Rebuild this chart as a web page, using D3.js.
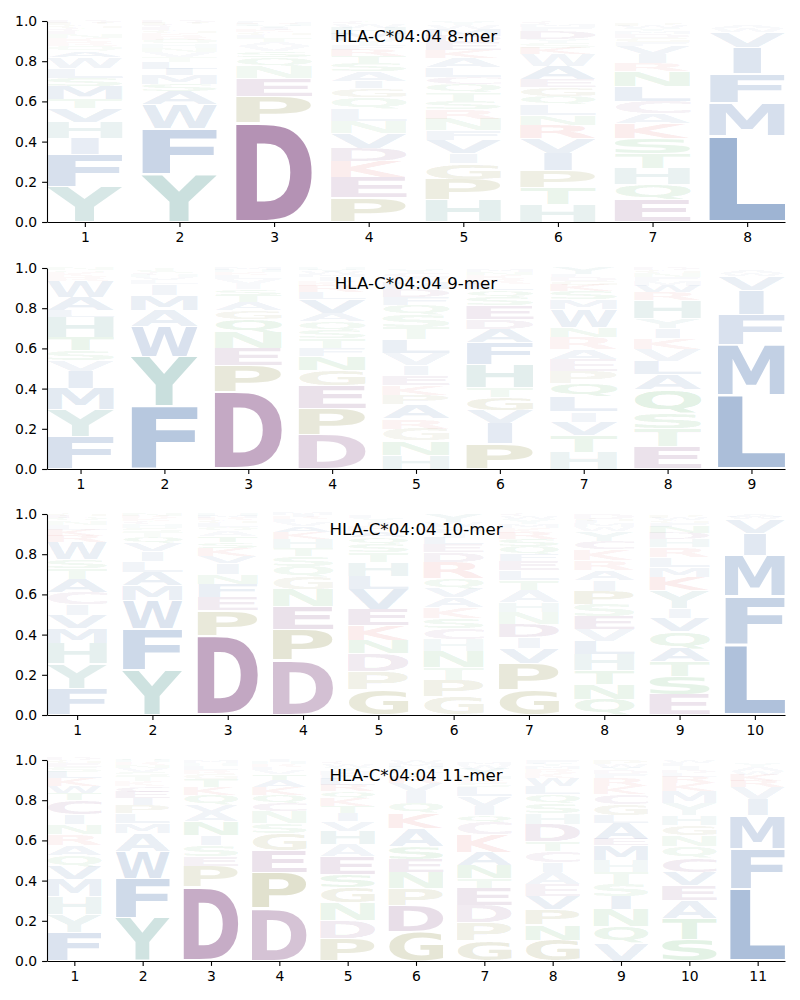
<!DOCTYPE html>
<html>
<head>
<meta charset="utf-8">
<script src="https://cdn.jsdelivr.net/npm/d3@7"></script>
<style>
body { margin: 0; background: #fff; }
svg text { font-family: "DejaVu Sans", sans-serif; }
</style>
</head>
<body>
<svg id="chart" width="800" height="1000"></svg>
<script>
// Peptide logos for HLA-C*04:04, one panel per peptide length.
// Each column: letters from bottom to top, with their heights (frequencies)

const titles = ["HLA-C*04:04 8-mer", "HLA-C*04:04 9-mer", "HLA-C*04:04 10-mer", "HLA-C*04:04 11-mer"];

const letters8 = ["YFIHVTMSLWAQRKNECGPD", "YFWASMILTVNHQRKGECPD", "DPENQSVATLGKIYHRMF", "PEKDVNLQGIASTRFYMHWC",
    "HPGIVFNRSTQCLAKEDMWY", "HTPIVRNLQGEAWKSYDFMC", "EQHTSKACLNRIVFGDMYWP", "LMFIVWA"];
const heights8 = [
    [.175, .16, .08, .08, .07, .045, .065, .04, .05, .055, .03, .025, .02, .02, .02, .015, .015, .015, .01, .01],
    [.24, .225, .12, .065, .035, .045, .03, .035, .025, .025, .02, .02, .02, .02, .015, .015, .015, .01, .01, .01],
    [.495, .13, .09, .06, .045, .03, .025, .02, .02, .015, .015, .01, .01, .01, .01, .005, .005, .005],
    [.12, .1, .08, .065, .075, .06, .06, .06, .045, .035, .05, .04, .035, .03, .025, .025, .03, .03, .02, .015],
    [.11, .1, .08, .05, .065, .05, .058, .05, .04, .04, .04, .035, .05, .045, .04, .04, .03, .035, .02, .02],
    [.09, .08, .085, .085, .075, .065, .05, .055, .04, .045, .04, .065, .06, .03, .025, .02, .04, .02, .015, .01],
    [.11, .075, .08, .075, .075, .075, .05, .06, .075, .075, .04, .045, .04, .02, .02, .02, .015, .015, .01, .01],
    [.43, .165, .145, .13, .075, .02, .015]
];

const letters9 = ["FYMIVSTHLAWRKQN", "FYWAMILVHCST", "DPENQGATSIVLKHM", "DPEGNFTSQAVLRKIMWYH", "HNGRAPKEIVLTSQFDMWCY",
    "PIVGTHFADESQLRKNM", "HTVILQPEARNWMSKGDFY", "ETSQALVKIYHRWMFNGD", "LMFIVWA"];
const heights9 = [
    [.16, .135, .105, .085, .055, .05, .065, .1, .035, .065, .08, .02, .025, .01, .01],
    [.31, .25, .15, .08, .075, .055, .02, .015, .01, .01, .01, .01],
    [.385, .13, .085, .08, .065, .045, .04, .035, .03, .025, .025, .02, .015, .01, .01],
    [.17, .13, .115, .075, .07, .04, .05, .04, .045, .04, .07, .035, .03, .025, .02, .015, .01, .01, .01],
    [.07, .07, .06, .05, .07, .045, .05, .05, .05, .06, .07, .06, .06, .05, .04, .04, .035, .025, .02, .02],
    [.125, .1, .065, .065, .05, .115, .11, .065, .05, .07, .04, .035, .03, .025, .02, .015, .01],
    [.085, .08, .07, .05, .075, .065, .06, .06, .05, .06, .05, .09, .05, .04, .03, .02, .02, .015, .03],
    [.11, .09, .075, .12, .075, .065, .06, .055, .05, .05, .09, .04, .03, .025, .02, .02, .015, .01],
    [.365, .255, .15, .12, .07, .015, .01]
];

const letters10 = ["FYHMVICATSWRKLNQEG", "YFWMALIVQTSHCKRN", "DPEFNIVKSTAQLGRMH", "DPENGQSTHKAVLRIM", "GPDNKEVLHTSQARIYF",
    "GPTNHCSKAVQRDELIFMWY", "GPVIDNHATLEFQSRKMYWC", "QNTHLVESPIARKCYWMFGD", "ESTAQVIYKMLRHDNFGWP", "LFMIVWA"];
const heights10 = [
    [.13, .125, .1, .075, .065, .055, .06, .065, .055, .045, .085, .03, .03, .025, .02, .015, .01, .01],
    [.225, .205, .14, .075, .065, .055, .05, .04, .03, .025, .02, .02, .015, .015, .01, .01],
    [.395, .125, .065, .065, .05, .055, .035, .04, .03, .03, .025, .02, .02, .015, .01, .01, .01],
    [.275, .15, .115, .085, .06, .055, .05, .04, .045, .035, .03, .02, .015, .01, .01, .01],
    [.125, .09, .09, .065, .075, .08, .1, .065, .07, .05, .04, .035, .03, .025, .02, .02, .015],
    [.09, .085, .06, .08, .06, .055, .05, .055, .05, .045, .05, .08, .05, .04, .03, .025, .02, .015, .02, .04],
    [.125, .13, .075, .055, .065, .06, .05, .06, .05, .05, .045, .035, .04, .035, .03, .025, .02, .025, .015, .01],
    [.08, .075, .065, .08, .065, .06, .065, .06, .065, .055, .05, .05, .055, .04, .05, .02, .02, .01, .01, .025],
    [.1, .09, .075, .065, .085, .065, .05, .09, .065, .05, .05, .05, .04, .03, .03, .02, .015, .01, .01],
    [.35, .24, .205, .11, .07, .01, .01]
];

const letters11 = ["FYHMVQARNICTWKLSEGD", "YFWAMLPIECKTSVNRHQ", "DPESINAVQKTGRLHM", "DPEGSNCQKATVLRHI",
    "PDNGSEAHVITKQRLFMYWC", "GDPNESAKQIVRTLHMW", "GPDETNAKCQIVLSRHFYWM", "GNPVEAICTDHSQLWKRMYF",
    "VQNISTHMEALGCKRFDYWP", "STAEVCQNGHYMKRLDIFW", "LFMIVRKWAY"];
const heights11 = [
    [.14, .09, .09, .085, .065, .055, .05, .055, .05, .05, .07, .035, .035, .04, .03, .025, .02, .015, .01],
    [.215, .195, .135, .09, .05, .05, .04, .035, .03, .03, .025, .025, .02, .02, .015, .015, .01, .01],
    [.37, .1, .05, .055, .05, .07, .045, .035, .05, .04, .04, .025, .02, .02, .015, .015],
    [.26, .18, .11, .085, .05, .06, .04, .04, .04, .035, .03, .02, .015, .015, .01, .01],
    [.11, .09, .09, .075, .065, .09, .06, .065, .05, .04, .035, .04, .035, .03, .03, .02, .02, .02, .015, .01],
    [.145, .13, .085, .08, .065, .065, .09, .075, .05, .06, .04, .03, .025, .015, .01, .02, .015],
    [.1, .09, .085, .085, .05, .065, .065, .09, .06, .035, .045, .05, .045, .02, .02, .015, .005, .03, .02, .015],
    [.105, .075, .075, .065, .06, .06, .05, .055, .05, .085, .055, .05, .045, .04, .04, .025, .02, .015, .01, .02],
    [.09, .08, .085, .065, .06, .06, .06, .075, .03, .08, .04, .055, .05, .04, .04, .02, .02, .01, .02, .02],
    [.105, .105, .09, .075, .065, .07, .06, .055, .05, .05, .06, .06, .04, .03, .02, .015, .02, .015, .015],
    [.36, .2, .165, .08, .06, .03, .03, .02, .02, .02]
];

const yTicks = [0, 0.2, 0.4, 0.6, 0.8, 1.0];

// amino acid colours (opacity follows letter height)
const colors = {
    A: "#25579d", V: "#25579d", L: "#25579d", I: "#25579d", M: "#25579d", F: "#25579d", W: "#25579d",
    Y: "#398881", H: "#398881",
    D: "#6c2a6c", E: "#6c2a6c", C: "#7a3a7a",
    P: "#6e6e10", G: "#6e6e10",
    N: "#2a9a3c", Q: "#2a9a3c", S: "#2a9a3c", T: "#2a9a3c",
    K: "#d84848", R: "#d84848"
};

const panels = [
    {title: titles[0], letters: letters8, heights: heights8},
    {title: titles[1], letters: letters9, heights: heights9},
    {title: titles[2], letters: letters10, heights: heights10},
    {title: titles[3], letters: letters11, heights: heights11}
];

const svg = d3.select("#chart");
const left = 47, right = 785, axH = 201;
const tops = [21, 268, 514, 760];
const colWidth = 0.8, vpad = 0.05;

// ink boxes of the bold glyphs, so letters can be stretched to fill their slot
const fontPx = 100;
const ctx = document.createElement("canvas").getContext("2d");
ctx.font = "bold " + fontPx + "px 'DejaVu Sans'";
const inkCache = {};
function ink(ch) {
    if (!inkCache[ch]) {
        const m = ctx.measureText(ch);
        inkCache[ch] = {l: m.actualBoundingBoxLeft, r: m.actualBoundingBoxRight,
            a: m.actualBoundingBoxAscent, d: m.actualBoundingBoxDescent};
    }
    return inkCache[ch];
}
const eBox = ink("E");
const eWidth = eBox.l + eBox.r;

panels.forEach(function (p, k) {
    const n = p.letters.length;
    const top = tops[k], bottom = top + axH;

    const x = d3.scaleLinear().domain([0.6, n + 0.4]).range([left, right]);
    const y = d3.scaleLinear().domain([0, 1]).range([bottom, top]);

    const g = svg.append("g");

    // letters
    p.letters.forEach(function (word, i) {
        const pos = i + 1;
        const slotX = x(pos - colWidth / 2);
        const slotW = x(pos + colWidth / 2) - slotX;
        let base = 0;
        word.split("").forEach(function (ch, j) {
            const h = p.heights[i][j];
            const y0 = y(base), y1 = y(base + h);
            base += h;
            const fullH = y0 - y1;
            const gh = fullH * (1 - vpad);
            const gy = y1 + fullH * vpad / 2;
            const b = ink(ch);
            const bw = b.l + b.r;
            // narrow letters are not stretched more than the letter E
            const gw = Math.min(slotW, bw * slotW / eWidth);
            const gx = slotX + (slotW - gw) / 2;
            g.append("text")
                .text(ch)
                .attr("font-size", fontPx)
                .attr("font-weight", "bold")
                .attr("fill", colors[ch])
                .attr("fill-opacity", Math.min(1, 0.03 + 0.97 * h))
                .attr("transform", "translate(" + gx + "," + gy + ") scale(" + (gw / bw) + "," + (gh / (b.a + b.d)) + ") translate(" + b.l + "," + b.a + ")");
        });
    });

    // axes
    const xAxis = d3.axisBottom(x).tickValues(d3.range(1, n + 1)).tickFormat(d3.format("d"))
        .tickSize(4.9).tickSizeOuter(0).tickPadding(4.9);
    const yAxis = d3.axisLeft(y).tickValues(yTicks).tickFormat(d3.format(".1f"))
        .tickSize(4.9).tickSizeOuter(0).tickPadding(4.9);

    const gx = g.append("g").attr("transform", "translate(0," + bottom + ")").call(xAxis);
    const gy = g.append("g").attr("transform", "translate(" + left + ",0)").call(yAxis);
    [gx, gy].forEach(function (a) {
        a.attr("font-family", "DejaVu Sans").attr("font-size", 13.9);
        a.selectAll("path, line").attr("stroke", "#000").attr("stroke-width", 1.1);
        a.selectAll("text").attr("fill", "#000");
    });

    // title inside the axes
    g.append("text")
        .attr("x", (left + right) / 2)
        .attr("y", top + 21)
        .attr("text-anchor", "middle")
        .attr("font-size", 16.67)
        .attr("fill", "#000")
        .text(p.title);
});
</script>
</body>
</html>
